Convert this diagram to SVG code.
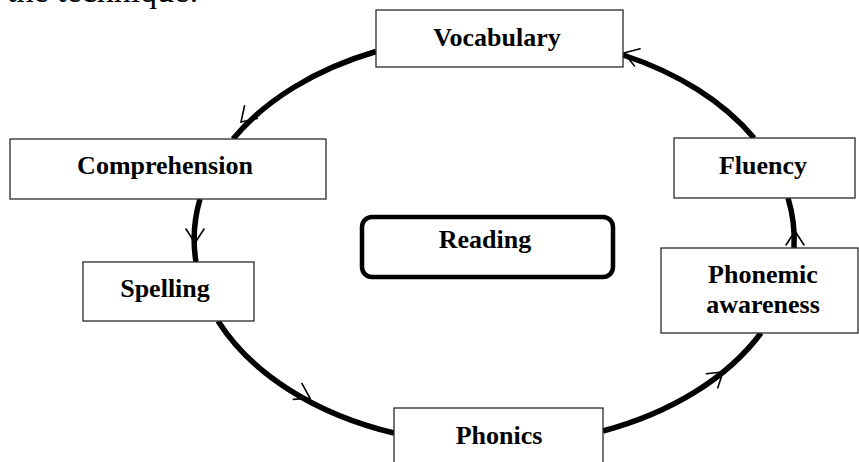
<svg xmlns="http://www.w3.org/2000/svg" width="859" height="462" viewBox="0 0 859 462">
  <style>
    .box { fill: #ffffff; stroke: #2a2a2a; stroke-width: 1.3; }
    .center { fill: #ffffff; stroke: #000000; stroke-width: 4.5; }
    .lbl { font-family: "Liberation Serif", "Times New Roman", serif; font-weight: bold; font-size: 26px; fill: #000000; text-anchor: middle; }
    .body { font-family: "Liberation Serif", "Times New Roman", serif; font-size: 34px; fill: #000000; }
    .arc { fill: none; stroke: #000000; stroke-width: 5.5; stroke-linecap: butt; }
    .head { fill: none; stroke: #000000; stroke-width: 1.6; stroke-linecap: round; stroke-linejoin: miter; }
  </style>
  <defs>
    <path id="ah" class="head" d="M-14,-9 L0,0 L-14,9"/>
  </defs>
  <rect x="0" y="0" width="859" height="462" fill="#ffffff"/>

  <text class="body" x="7" y="2">the technique:</text>

  <g id="connectors">
    <path class="arc" d="M376,51.5 A300,205 0 0,0 233,139"/>
    <path class="arc" d="M200,199 A300,205 0 0,0 196,262"/>
    <path class="arc" d="M218,321 A300,205 0 0,0 394,433"/>
    <path class="arc" d="M603,431 A300,205 0 0,0 761,333"/>
    <path class="arc" d="M794,248 A300,205 0 0,0 788,198"/>
    <path class="arc" d="M754,138 A300,205 0 0,0 623,55"/>
    <use href="#ah" transform="translate(241,122) rotate(135)"/>
    <use href="#ah" transform="translate(195,243) rotate(90)"/>
    <use href="#ah" transform="translate(310,398) rotate(28)"/>
    <use href="#ah" transform="translate(723,372) rotate(-39)"/>
    <use href="#ah" transform="translate(795,231) rotate(-90)"/>
    <use href="#ah" transform="translate(624,53) rotate(198)"/>
  </g>

  <g id="vocabulary">
    <rect class="box" x="376" y="10" width="247" height="57"/>
    <text class="lbl" x="497" y="46">Vocabulary</text>
  </g>
  <g id="comprehension">
    <rect class="box" x="10" y="139" width="316" height="60"/>
    <text class="lbl" x="165" y="174">Comprehension</text>
  </g>
  <g id="spelling">
    <rect class="box" x="83" y="262" width="171" height="59"/>
    <text class="lbl" x="165" y="297">Spelling</text>
  </g>
  <g id="reading">
    <rect class="center" x="362" y="217" width="251" height="60" rx="10" ry="10"/>
    <text class="lbl" x="485" y="248">Reading</text>
  </g>
  <g id="fluency">
    <rect class="box" x="674" y="138" width="181" height="60"/>
    <text class="lbl" x="763" y="174">Fluency</text>
  </g>
  <g id="phonemic">
    <rect class="box" x="661" y="248" width="197" height="85"/>
    <text class="lbl" x="763" y="283">Phonemic</text>
    <text class="lbl" x="763" y="313">awareness</text>
  </g>
  <g id="phonics">
    <rect class="box" x="394" y="408" width="209" height="70"/>
    <text class="lbl" x="499" y="444">Phonics</text>
  </g>
</svg>
